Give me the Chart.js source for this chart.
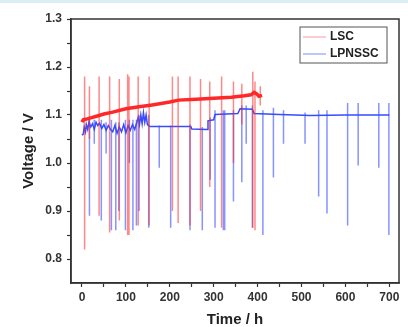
<!DOCTYPE html>
<html>
<head>
<meta charset="utf-8">
<script src="https://cdn.jsdelivr.net/npm/chart.js@4"></script>
<style>
  body { margin: 0; background: #fff; }
  #wrap { width: 408px; height: 327px; }
</style>
</head>
<body>
<div id="wrap"><canvas id="result" width="408" height="327"></canvas></div>
<script>
// LSC baseline (time h, voltage V)
const lscBaseT = [0, 3, 8, 20, 35, 50, 70, 100, 130, 160, 200, 220, 260, 300, 340, 370, 385, 392, 398, 403, 410];
const lscBaseV = [1.085, 1.09, 1.091, 1.094, 1.098, 1.102, 1.106, 1.113, 1.117, 1.121, 1.127, 1.131, 1.133, 1.135, 1.137, 1.14, 1.142, 1.147, 1.144, 1.139, 1.141];
// LSC spikes: time, upper and lower end
const lscSpikeT = [6, 17, 39, 63, 85, 104, 107, 128, 153, 206, 219, 246, 270, 291, 318, 345, 364, 389, 394, 406];
const lscSpikeHigh = [1.18, 1.16, 1.18, 1.18, 1.175, 1.185, 1.18, 1.18, 1.18, 1.18, 1.18, 1.18, 1.175, 1.17, 1.18, 1.17, 1.165, 1.19, 1.17, 1.16];
const lscSpikeLow = [0.82, 1.05, 0.89, 0.855, 0.88, 0.85, 0.85, 0.87, 0.87, 0.9, 0.875, 0.87, 0.9, 0.95, 0.865, 1.0, 1.08, 0.865, 0.86, 1.12];

// LPNSSC baseline
const lpnBaseT = [0, 3, 5, 8, 10, 13, 16, 20, 24, 28, 32, 36, 40, 45, 50, 55, 60, 65, 70, 75, 80, 85, 90, 95, 100, 105, 110, 115, 120, 125, 128, 131, 134, 137, 140, 143, 146, 149, 152, 155, 200, 248, 250, 285, 287, 300, 303, 355, 360, 388, 392, 450, 520, 600, 650, 700];
const lpnBaseV = [1.058, 1.06, 1.075, 1.065, 1.08, 1.07, 1.085, 1.075, 1.082, 1.07, 1.085, 1.078, 1.083, 1.072, 1.08, 1.068, 1.078, 1.07, 1.065, 1.078, 1.062, 1.075, 1.065, 1.08, 1.063, 1.078, 1.068, 1.08, 1.07, 1.085, 1.095, 1.08, 1.1, 1.082, 1.105, 1.085, 1.1, 1.08, 1.078, 1.076, 1.076, 1.076, 1.071, 1.07, 1.088, 1.09, 1.101, 1.103, 1.113, 1.112, 1.103, 1.101, 1.099, 1.1, 1.1, 1.1];
// LPNSSC spikes
const lpnSpikeT = [17, 28, 44, 55, 67, 77, 84, 99, 108, 116, 124, 130, 152, 176, 202, 246, 274, 292, 303, 322, 325, 345, 364, 374, 388, 412, 436, 459, 508, 539, 558, 605, 629, 676, 699];
const lpnSpikeHigh = [1.09, 1.09, 1.09, 1.085, 1.09, 1.085, 1.085, 1.09, 1.09, 1.09, 1.09, 1.1, 1.1, 1.078, 1.078, 1.08, 1.075, 1.095, 1.11, 1.11, 1.11, 1.11, 1.12, 1.12, 1.12, 1.11, 1.115, 1.11, 1.105, 1.11, 1.11, 1.125, 1.125, 1.125, 1.125];
const lpnSpikeLow = [0.89, 1.04, 0.88, 1.02, 0.86, 0.86, 0.9, 0.86, 1.0, 0.86, 0.87, 0.9, 0.865, 0.99, 0.865, 0.86, 0.86, 0.965, 0.865, 0.86, 0.86, 0.92, 0.96, 1.04, 0.865, 0.85, 0.97, 1.04, 1.04, 0.93, 0.895, 0.87, 0.995, 0.99, 0.85];

// axis ticks (labelled and minor)
const yTickLabels = [0.8, 0.9, 1.0, 1.1, 1.2, 1.3];
const yMinorTicks = [0.85, 0.95, 1.05, 1.15, 1.25];
const xTickLabels = [0, 100, 200, 300, 400, 500, 600, 700];
const xMinorTicks = [50, 150, 250, 350, 450, 550, 650];

const redColor = 'rgb(255, 40, 40)';
const blueColor = 'rgb(55, 75, 255)';

function toPoints(ts, vs) {
    return ts.map((t, i) => ({ x: t, y: vs[i] }));
}

function toSpikes(ts, highs, lows) {
    let pts = [];
    ts.forEach((t, i) => {
        pts.push({ x: t, y: highs[i] });
        pts.push({ x: t, y: lows[i] });
        pts.push({ x: t, y: null });
    });
    return pts;
}

function tickList(major, minor) {
    return major.concat(minor).sort((a, b) => a - b).map(v => ({ value: v }));
}

const frameAndLegend = {
    id: 'frameAndLegend',
    beforeDraw(chart) {
        const ctx = chart.ctx;
        ctx.save();
        ctx.fillStyle = '#fff';
        ctx.fillRect(0, 0, chart.width, chart.height);
        ctx.fillStyle = '#dcedf4';
        ctx.fillRect(0, 0, chart.width, 3);
        ctx.restore();
    },
    afterDraw(chart) {
        const ctx = chart.ctx;
        const a = chart.chartArea;
        ctx.save();
        ctx.strokeStyle = '#333';
        ctx.lineWidth = 1.5;
        ctx.strokeRect(a.left, a.top, a.right - a.left, a.bottom - a.top);

        // legend box
        const bx = a.right - 99, by = a.top + 8;
        ctx.lineWidth = 1;
        ctx.strokeStyle = '#555';
        ctx.strokeRect(bx, by, 87, 36);
        const items = [['LSC', 'rgba(255, 60, 80, 0.45)'], ['LPNSSC', 'rgba(60, 80, 255, 0.55)']];
        ctx.font = 'bold 12px "Liberation Sans", Arial, sans-serif';
        ctx.textBaseline = 'middle';
        items.forEach((it, i) => {
            const y = by + 10 + i * 17;
            ctx.strokeStyle = it[1];
            ctx.lineWidth = 1.2;
            ctx.beginPath();
            ctx.moveTo(bx + 3, y);
            ctx.lineTo(bx + 26, y);
            ctx.stroke();
            ctx.fillStyle = '#222';
            ctx.fillText(it[0], bx + 30, y);
        });
        ctx.restore();
    }
};

const data = {
    datasets: [
        {
            label: 'LSC spikes',
            data: toSpikes(lscSpikeT, lscSpikeHigh, lscSpikeLow),
            borderColor: 'rgba(255, 40, 40, 0.55)',
            borderWidth: 1.5,
            pointRadius: 0,
            spanGaps: false
        },
        {
            label: 'LPNSSC spikes',
            data: toSpikes(lpnSpikeT, lpnSpikeHigh, lpnSpikeLow),
            borderColor: 'rgba(55, 75, 255, 0.6)',
            borderWidth: 1.5,
            pointRadius: 0,
            spanGaps: false
        },
        {
            label: 'LPNSSC',
            data: toPoints(lpnBaseT, lpnBaseV),
            borderColor: blueColor,
            borderWidth: 1.5,
            pointRadius: 0
        },
        {
            label: 'LSC',
            data: toPoints(lscBaseT, lscBaseV),
            borderColor: redColor,
            borderWidth: 3.5,
            pointRadius: 0
        }
    ]
};

const tickFont = { family: '"Liberation Sans", Arial, sans-serif', size: 12, weight: 'bold' };
const titleFont = { family: '"Liberation Sans", Arial, sans-serif', size: 15, weight: 'bold', lineHeight: 1 };

const config = {
    type: 'line',
    data: data,
    options: {
        responsive: false,
        animation: false,
        parsing: false,
        layout: { padding: { top: 19, right: 9, bottom: 0, left: 0 } },
        plugins: { legend: { display: false }, tooltip: { enabled: false } },
        scales: {
            x: {
                type: 'linear',
                min: -25,
                max: 722,
                afterFit: s => { s.height = 44; },
                afterBuildTicks: s => { s.ticks = tickList(xTickLabels, xMinorTicks); },
                ticks: {
                    padding: 3,
                    color: '#333',
                    font: tickFont,
                    maxRotation: 0,
                    autoSkip: false,
                    callback: v => xTickLabels.includes(v) ? String(v) : ''
                },
                grid: { drawOnChartArea: false, tickLength: 4, tickColor: '#333', tickWidth: 1.2 },
                border: { color: '#333', width: 1.5 },
                title: { display: true, text: 'Time / h', color: '#222', font: titleFont, padding: { top: 0, bottom: 0 } }
            },
            y: {
                min: 0.75,
                max: 1.3,
                afterFit: s => { s.width = 71; },
                afterBuildTicks: s => { s.ticks = tickList(yTickLabels, yMinorTicks); },
                ticks: {
                    padding: 5,
                    color: '#333',
                    font: tickFont,
                    autoSkip: false,
                    callback: v => yTickLabels.includes(v) ? v.toFixed(1) : ''
                },
                grid: { drawOnChartArea: false, tickLength: 4, tickColor: '#333', tickWidth: 1.2 },
                border: { color: '#333', width: 1.5 },
                title: { display: true, text: 'Voltage / V', color: '#222', font: titleFont, padding: { top: 21, bottom: 0 } }
            }
        }
    },
    plugins: [frameAndLegend]
};

window.addEventListener('DOMContentLoaded', () => {
    const myChart = new Chart(document.getElementById('result'), config);
});
</script>
</body>
</html>
